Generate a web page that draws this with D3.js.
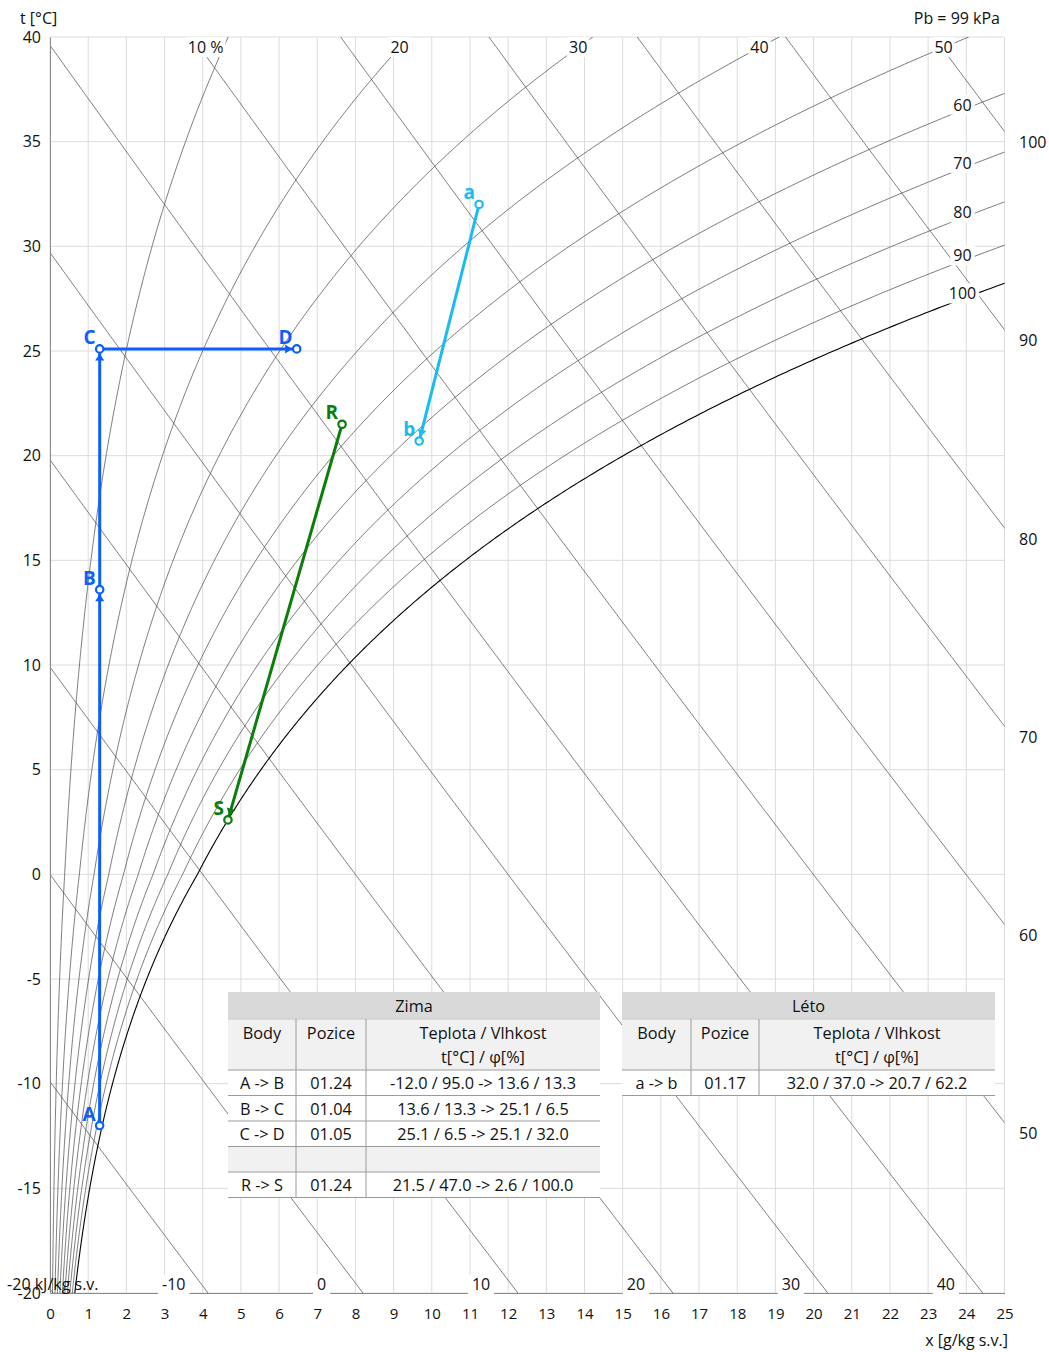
<!DOCTYPE html>
<html>
<head>
<meta charset="utf-8">
<script src="https://cdn.jsdelivr.net/npm/d3@7"></script>
<style>
  body { margin: 0; background: #fff; }
  text { font-family: "Open Sans", "Noto Sans", sans-serif; fill: #111; }
</style>
</head>
<body>
<svg id="chart" width="1049" height="1352"></svg>
<script>
// ---------- data ----------
const baroPressure = 99; // kPa
const tempTicks = [-20, -15, -10, -5, 0, 5, 10, 15, 20, 25, 30, 35, 40];
const moistureTicks = [0, 1, 2, 3, 4, 5, 6, 7, 8, 9, 10, 11, 12, 13, 14, 15, 16, 17, 18, 19, 20, 21, 22, 23, 24, 25];
const rhLevels = [10, 20, 30, 40, 50, 60, 70, 80, 90, 100];
const enthalpyLevels = [-20, -10, 0, 10, 20, 30, 40, 50, 60, 70, 80, 90, 100];

// state points: temperature [°C] and relative humidity [%]
const pointNames = ["A", "B", "C", "D", "R", "S", "a", "b"];
const pointTemp  = [-12.0, 13.6, 25.1, 25.1, 21.5, 2.6, 32.0, 20.7];
const pointRH    = [95.0, 13.3, 6.5, 32.0, 47.0, 100.0, 37.0, 62.2];

// air-handling processes
const processFrom   = ["A", "B", "C", "R", "a"];
const processTo     = ["B", "C", "D", "S", "b"];
const processPos    = ["01.24", "01.04", "01.05", "01.24", "01.17"];
const winterRows    = [0, 1, 2, null, 3];   // null = empty row
const summerRows    = [4];

// ---------- psychrometrics ----------
function pSat(t) { // kPa, over water above 0 °C, over ice below
  return t >= 0 ? 0.61094 * Math.exp(17.625 * t / (t + 243.04))
                : 0.61115 * Math.exp(22.452 * t / (272.55 + t));
}
function moisture(t, rh) { // g/kg dry air
  const pv = rh / 100 * pSat(t);
  return 622 * pv / (baroPressure - pv);
}
function moistureAtEnthalpy(h, t) {
  return 1000 * (h - 1.01 * t) / (2501 + 1.84 * t);
}
function tempAtMoisture(rh, xv) { // bisection on the RH curve
  let lo = -20, hi = 60;
  for (let i = 0; i < 60; i++) {
    const m = (lo + hi) / 2;
    if (moisture(m, rh) < xv) lo = m; else hi = m;
  }
  return (lo + hi) / 2;
}

// ---------- layout ----------
const svg = d3.select("#chart");
const x = d3.scaleLinear().domain([0, 25]).range([50, 1004.5]);
const y = d3.scaleLinear().domain([-20, 40]).range([1293, 37]);
const BLUE = "#0d5ffb", GREEN = "#0a7d0a", CYAN = "#18bdef";
const colourOf = n => "ABCD".includes(n) ? BLUE : ("RS".includes(n) ? GREEN : CYAN);

svg.append("defs").append("clipPath").attr("id", "plot")
  .append("rect").attr("x", x(0)).attr("y", y(40))
  .attr("width", x(25) - x(0)).attr("height", y(-20) - y(40));

// grid
const grid = svg.append("g");
grid.selectAll("line.v").data(moistureTicks).join("line")
  .attr("x1", d => x(d)).attr("x2", d => x(d)).attr("y1", y(40)).attr("y2", y(-20))
  .attr("stroke", "#dcdcdc").attr("stroke-width", 1);
grid.selectAll("line.h").data(tempTicks).join("line")
  .attr("x1", x(0)).attr("x2", x(25)).attr("y1", d => y(d)).attr("y2", d => y(d))
  .attr("stroke", "#dcdcdc").attr("stroke-width", 1);

const plot = svg.append("g").attr("clip-path", "url(#plot)");
const line = d3.line().x(d => x(d[0])).y(d => y(d[1]));
const tSamples = d3.range(-20, 40.001, 0.1);

// enthalpy lines
plot.selectAll("path.h").data(enthalpyLevels).join("path")
  .attr("d", h => line(tSamples.map(t => [moistureAtEnthalpy(h, t), t])))
  .attr("fill", "none").attr("stroke", "#444").attr("stroke-width", 0.7);

// relative humidity curves
plot.selectAll("path.rh").data(rhLevels).join("path")
  .attr("d", rh => line(tSamples.map(t => [moisture(t, rh), t])))
  .attr("fill", "none")
  .attr("stroke", rh => rh === 100 ? "#000" : "#444")
  .attr("stroke-width", rh => rh === 100 ? 1.1 : 0.7);

// axes
const plain = d => String(d);
const axL = svg.append("g").attr("transform", `translate(${x(0)},0)`)
  .call(d3.axisLeft(y).tickValues(tempTicks).tickSize(0).tickPadding(9).tickFormat(plain));
axL.select(".domain").attr("stroke", "#8a8a8a");
axL.selectAll("text").attr("font-size", 16).attr("fill", "#111");

const axB = svg.append("g").attr("transform", `translate(0,${y(-20)})`)
  .call(d3.axisBottom(x).tickValues(moistureTicks).tickSize(0).tickPadding(15).tickFormat(plain));
axB.select(".domain").attr("stroke", "#8a8a8a");
axB.selectAll("text").attr("font-size", 15).attr("fill", "#111");

svg.append("text").attr("x", 20).attr("y", 24).attr("font-size", 16).text("t [°C]");
svg.append("text").attr("x", 1000).attr("y", 24).attr("font-size", 16).attr("text-anchor", "end").text("Pb = 99 kPa");
svg.append("text").attr("x", 1008).attr("y", 1346).attr("font-size", 16).attr("text-anchor", "end").text("x [g/kg s.v.]");

// label helper with white backing
function boxedLabel(g, px, py, str, anchor, size, pad) {
  const gg = g.append("g");
  const tx = gg.append("text").attr("x", px).attr("y", py).attr("dy", "0.35em")
    .attr("text-anchor", anchor).attr("font-size", size).text(str);
  const b = tx.node().getBBox();
  gg.insert("rect", "text").attr("x", b.x - pad).attr("y", b.y + 1)
    .attr("width", b.width + 2 * pad).attr("height", b.height - 2).attr("fill", "#fff");
  return gg;
}

const labels = svg.append("g");
// RH labels
rhLevels.forEach(rh => {
  if (rh <= 50) {
    const t = 39.5;
    boxedLabel(labels, x(moisture(t, rh)), y(t), rh === 10 ? "10 %" : String(rh),
      rh === 10 ? "end" : "middle", 16, 2);
  } else {
    const xv = 23.9;
    const t = tempAtMoisture(rh, xv);
    boxedLabel(labels, x(xv), y(t) - 5, String(rh), "middle", 16, 3);
  }
});

// enthalpy labels: bottom edge or right edge
enthalpyLevels.forEach(h => {
  const xb = moistureAtEnthalpy(h, -20);
  if (xb <= 25) {
    if (h === -20) {
      labels.append("text").attr("x", x(xb) - 46).attr("y", 1290).attr("font-size", 16)
        .text("-20 kJ/kg s.v.");
    } else {
      const gg = labels.append("g");
      const tx = gg.append("text").attr("x", x(xb) - 46).attr("y", 1290).attr("font-size", 16).text(String(h));
      const b = tx.node().getBBox();
      gg.insert("rect", "text").attr("x", b.x - 4).attr("y", b.y + 2)
        .attr("width", b.width + 8).attr("height", 1294 - b.y - 2).attr("fill", "#fff");
    }
  } else {
    const tr = (h - 25 * 2.501) / (1.01 + 25 * 0.00184);
    labels.append("text").attr("x", 1019).attr("y", y(tr) + 11).attr("dy", "0.35em")
      .attr("font-size", 16).text(String(h));
  }
});

// ---------- processes ----------
const pt = n => {
  const i = pointNames.indexOf(n);
  return [x(moisture(pointTemp[i], pointRH[i])), y(pointTemp[i])];
};
const proc = svg.append("g");
const R = 4.5;
processFrom.forEach((f, i) => {
  const p1 = pt(f), p2 = pt(processTo[i]);
  const c = colourOf(f);
  proc.append("line").attr("x1", p1[0]).attr("y1", p1[1]).attr("x2", p2[0]).attr("y2", p2[1])
    .attr("stroke", c).attr("stroke-width", 3);
  const dx = p2[0] - p1[0], dy = p2[1] - p1[1], L = Math.hypot(dx, dy);
  const ux = dx / L, uy = dy / L;
  const tip = [p2[0] - ux * R, p2[1] - uy * R];
  const base = [tip[0] - ux * 7, tip[1] - uy * 7];
  proc.append("path")
    .attr("d", `M${tip[0]},${tip[1]}L${base[0] - uy * 4.5},${base[1] + ux * 4.5}L${base[0] + uy * 4.5},${base[1] - ux * 4.5}Z`)
    .attr("fill", c);
});
pointNames.forEach(n => {
  const p = pt(n), c = colourOf(n);
  proc.append("circle").attr("cx", p[0]).attr("cy", p[1]).attr("r", R - 0.8)
    .attr("fill", "#fff").attr("stroke", c).attr("stroke-width", 2.2);
  proc.append("text").attr("x", p[0] - 4).attr("y", p[1] - 5).attr("text-anchor", "end")
    .attr("font-size", 19).attr("font-weight", "bold").style("fill", c).text(n);
});

// ---------- tables ----------
function drawTable(x0, widths, title, rows) {
  const g = svg.append("g");
  const W = d3.sum(widths);
  const cx = [x0, x0 + widths[0], x0 + widths[0] + widths[1], x0 + W];
  const top = 992, hHead = 27, hSub = 51, hRow = 25.5, fs = 16.3;
  g.append("rect").attr("x", x0).attr("y", top).attr("width", W).attr("height", hHead).attr("fill", "#d9d9d9");
  g.append("text").attr("x", x0 + W / 2).attr("y", top + hHead / 2 + 1).attr("dy", "0.35em")
    .attr("text-anchor", "middle").attr("font-size", fs).text(title);
  const sTop = top + hHead;
  g.append("rect").attr("x", x0).attr("y", sTop).attr("width", W).attr("height", hSub).attr("fill", "#f1f1f1");
  const mid = i => (cx[i] + cx[i + 1]) / 2;
  g.append("text").attr("x", mid(0)).attr("y", sTop + 14).attr("dy", "0.35em").attr("text-anchor", "middle").attr("font-size", fs).text("Body");
  g.append("text").attr("x", mid(1)).attr("y", sTop + 14).attr("dy", "0.35em").attr("text-anchor", "middle").attr("font-size", fs).text("Pozice");
  g.append("text").attr("x", mid(2)).attr("y", sTop + 14).attr("dy", "0.35em").attr("text-anchor", "middle").attr("font-size", fs).text("Teplota / Vlhkost");
  g.append("text").attr("x", mid(2)).attr("y", sTop + 38).attr("dy", "0.35em").attr("text-anchor", "middle").attr("font-size", fs).text("t[°C] / φ[%]");
  const rTop = sTop + hSub;
  g.append("line").attr("x1", x0).attr("x2", x0 + W).attr("y1", sTop).attr("y2", sTop).attr("stroke", "#c8c8c8");
  rows.forEach((pi, k) => {
    const yy = rTop + k * hRow;
    g.append("rect").attr("x", x0).attr("y", yy).attr("width", W).attr("height", hRow)
      .attr("fill", pi === null ? "#f1f1f1" : "#fff");
    g.append("line").attr("x1", x0).attr("x2", x0 + W).attr("y1", yy).attr("y2", yy).attr("stroke", "#9a9a9a");
    if (pi !== null) {
      const a = pointNames.indexOf(processFrom[pi]), b = pointNames.indexOf(processTo[pi]);
      const cells = [
        `${processFrom[pi]} -> ${processTo[pi]}`,
        processPos[pi],
        `${pointTemp[a].toFixed(1)} / ${pointRH[a].toFixed(1)} -> ${pointTemp[b].toFixed(1)} / ${pointRH[b].toFixed(1)}`
      ];
      cells.forEach((s, j) => g.append("text").attr("x", mid(j)).attr("y", yy + hRow / 2 + 1).attr("dy", "0.35em")
        .attr("text-anchor", "middle").attr("font-size", fs).text(s));
    }
  });
  const bottom = rTop + rows.length * hRow;
  g.append("line").attr("x1", x0).attr("x2", x0 + W).attr("y1", bottom).attr("y2", bottom).attr("stroke", "#9a9a9a");
  [1, 2].forEach(i => g.append("line").attr("x1", cx[i]).attr("x2", cx[i]).attr("y1", sTop).attr("y2", bottom)
    .attr("stroke", "#9a9a9a"));
}
drawTable(228, [68, 70, 234], "Zima", winterRows);
drawTable(622, [69, 68, 236], "Léto", summerRows);
</script>
</body>
</html>
